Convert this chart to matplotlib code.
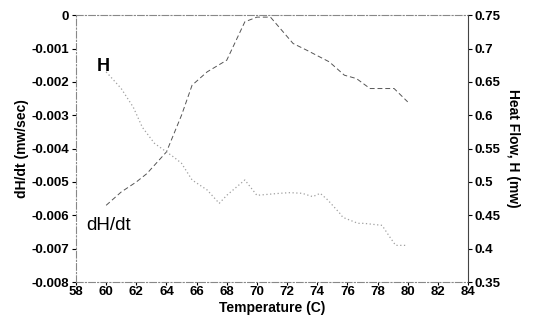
import matplotlib
matplotlib.use("Agg")
import matplotlib.pyplot as plt

# dH/dt curve (left axis)
temp_dhdt = [60, 61, 62, 62.7, 64, 65, 65.7, 66.7, 68, 69.2, 70, 70.9, 72.4, 73.3, 74.8, 75.8, 76.6, 77.5, 79.1, 80]
dhdt = [-0.0057, -0.0053, -0.0050, -0.00475, -0.0041, -0.0030, -0.0021, -0.0017, -0.00135, -0.0002,
        -0.00006, -0.00006, -0.00085, -0.00105, -0.0014, -0.0018, -0.0019, -0.0022, -0.0022, -0.0026]

# Heat flow H curve (right axis)
temp_h = [60, 61, 61.8, 62.4, 63.2, 64.5, 65, 65.7, 66.7, 67.5, 68, 69.2, 70, 71.5, 72.2, 73, 73.7,
          74.2, 74.7, 75.5, 75.7, 76.7, 77.1, 78.3, 78.8, 79.2, 79.9]
heat = [0.665, 0.64, 0.612, 0.582, 0.558, 0.537, 0.528, 0.503, 0.488, 0.468, 0.48, 0.503, 0.48, 0.483,
        0.484, 0.483, 0.478, 0.483, 0.473, 0.453, 0.447, 0.438, 0.438, 0.435, 0.418, 0.405, 0.405]

x_ticks = list(range(58, 85, 2))
left_ticks = [0, -0.001, -0.002, -0.003, -0.004, -0.005, -0.006, -0.007, -0.008]
left_labels = ["0", "-0.001", "-0.002", "-0.003", "-0.004", "-0.005", "-0.006", "-0.007", "-0.008"]
right_ticks = [0.35, 0.4, 0.45, 0.5, 0.55, 0.6, 0.65, 0.7, 0.75]
right_labels = ["0.35", "0.4", "0.45", "0.5", "0.55", "0.6", "0.65", "0.7", "0.75"]

plt.rcParams['font.family'] = ['Liberation Sans', 'DejaVu Sans']

fig = plt.figure(figsize=(5.37, 3.22), dpi=100)
ax = fig.add_axes([0.1415, 0.124, 0.73, 0.829])
ax2 = ax.twinx()

ax.plot(temp_dhdt, dhdt, color='#555555', linestyle=(0, (5, 3)), linewidth=0.7)
ax2.plot(temp_h, heat, color='#a0a0a0', linestyle=(0, (1, 2)), linewidth=0.9)

ax.set_xlim(58, 84)
ax.set_ylim(-0.008, 0)
ax2.set_ylim(0.35, 0.75)

ax.set_xticks(x_ticks)
ax.set_xticklabels([str(t) for t in x_ticks], fontsize=9.5, fontweight='bold')
ax.set_yticks(left_ticks)
ax.set_yticklabels(left_labels, fontsize=9.5, fontweight='bold')
ax2.set_yticks(right_ticks)
ax2.set_yticklabels(right_labels, fontsize=9.5, fontweight='bold')

ax.tick_params(axis='x', length=2, pad=1)
ax.tick_params(axis='y', length=3, pad=2, direction='out')
ax2.tick_params(axis='y', length=3, pad=2, direction='out')

# spines: dashed-dotted gray except right
for name in ['left', 'top', 'bottom']:
    ax.spines[name].set_linestyle((0, (6, 2, 1, 2)))
    ax.spines[name].set_color('#888888')
    ax2.spines[name].set_visible(False)
ax2.spines['right'].set_color('#444444')
ax.spines['right'].set_visible(False)

ax.set_xlabel("Temperature (C)", fontsize=10, fontweight='bold', labelpad=2)
ax.set_ylabel("dH/dt (mw/sec)", fontsize=10, fontweight='bold', labelpad=2)
ax2.set_ylabel("Heat Flow, H (mw)", fontsize=10, fontweight='bold', rotation=-90, labelpad=14)

ax.text(59.35, -0.00155, "H", fontsize=13, fontweight='bold', ha='left', va='center')
ax.text(58.7, -0.0063, "dH/dt", fontsize=13.5, ha='left', va='center')

fig.savefig("out.png", dpi=100)
